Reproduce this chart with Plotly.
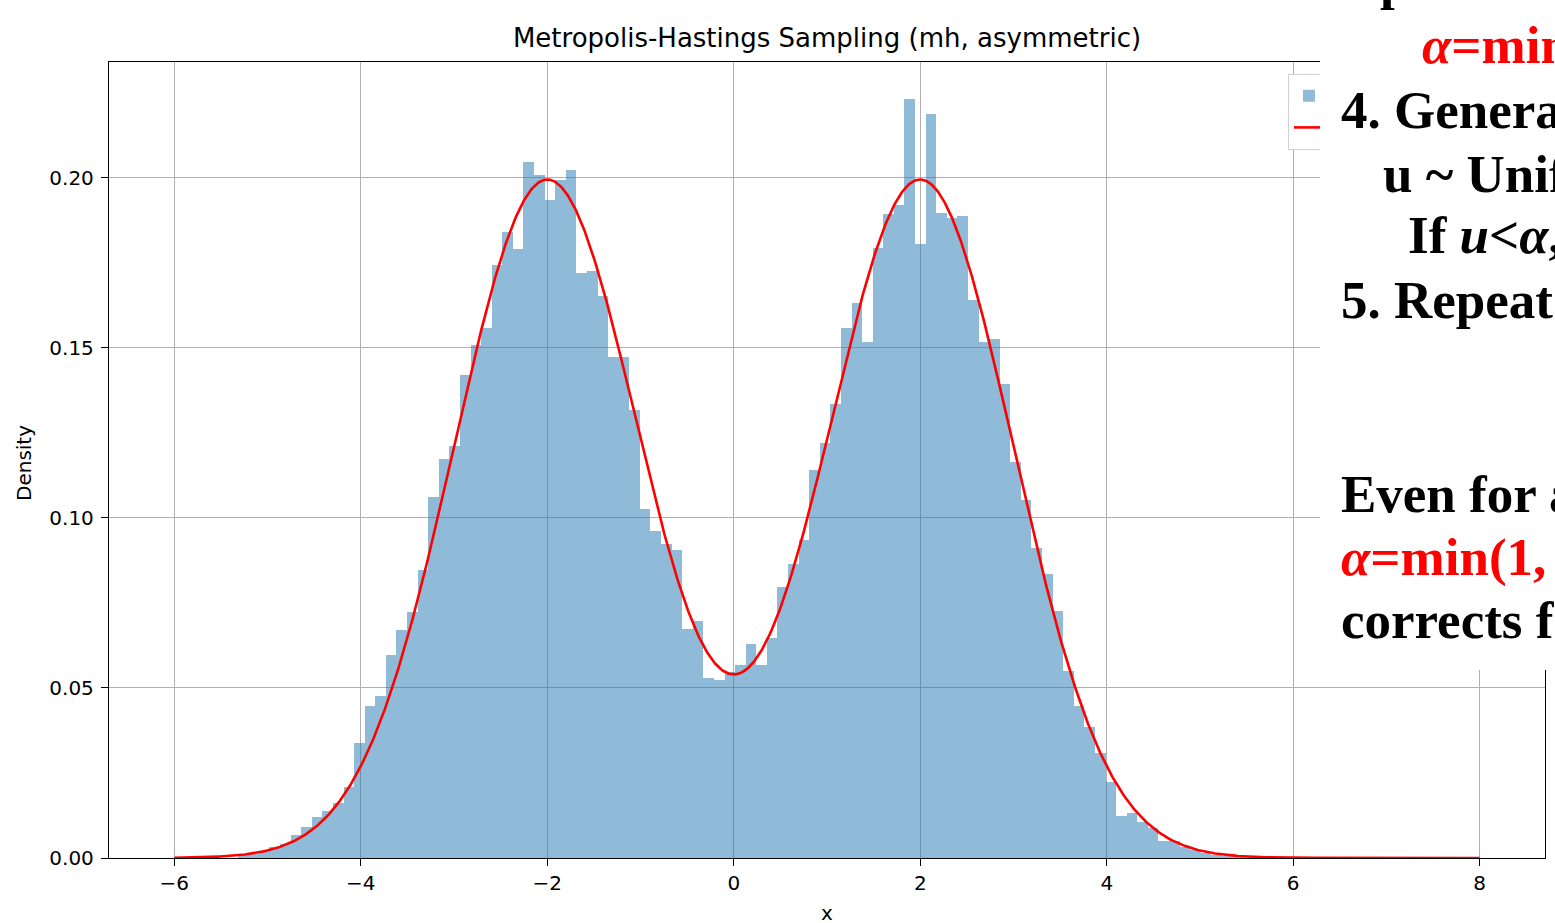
import numpy as np
import plotly.graph_objects as go

# ---------------- data ----------------
bin_start = -5.3195
bin_width = 0.1135
hist_density = [
    0.0008, 0.0012, 0.0020, 0.0032, 0.0042, 0.0067, 0.0090, 0.0121, 0.0139, 0.0162,
    0.0208, 0.0338, 0.0448, 0.0477, 0.0598, 0.0672, 0.0723, 0.0847, 0.1063, 0.1172,
    0.1213, 0.1420, 0.1508, 0.1559, 0.1743, 0.1841, 0.1791, 0.2048, 0.2010, 0.1936,
    0.1994, 0.2024, 0.1720, 0.1725, 0.1653, 0.1473, 0.1474, 0.1318, 0.1026, 0.0962,
    0.0924, 0.0905, 0.0674, 0.0696, 0.0529, 0.0524, 0.0546, 0.0567, 0.0630, 0.0567,
    0.0646, 0.0797, 0.0864, 0.0934, 0.1142, 0.1221, 0.1335, 0.1559, 0.1633, 0.1519,
    0.1795, 0.1895, 0.1920, 0.2233, 0.1807, 0.2188, 0.1898, 0.1881, 0.1888, 0.1640,
    0.1519, 0.1527, 0.1394, 0.1165, 0.1052, 0.0912, 0.0836, 0.0726, 0.0549, 0.0447,
    0.0385, 0.0310, 0.0223, 0.0125, 0.0132, 0.0105, 0.0089, 0.0051, 0.0050, 0.0032,
    0.0024, 0.0016, 0.0010, 0.0006, 0.0004, 0.0003, 0.0002, 0.0001, 0.0001, 0.0001,
]
# target density: equal mixture of N(-2,1) and N(2,1)
mix_means = [-2.0, 2.0]
mix_sds = [1.0, 1.0]
mix_weights = [0.5, 0.5]
curve_x_min, curve_x_max = -6.0, 8.0

x_ticks = [-6, -4, -2, 0, 2, 4, 6, 8]
y_ticks = [0.00, 0.05, 0.10, 0.15, 0.20]

title_text = "Metropolis-Hastings Sampling (mh, asymmetric)"
series_names = ["MH samples", "Target density"]

# ---------------- derived ----------------
centers = bin_start + bin_width * (np.arange(len(hist_density)) + 0.5)
xs = np.linspace(curve_x_min, curve_x_max, 1200)
pdf = np.zeros_like(xs)
for m, s, w in zip(mix_means, mix_sds, mix_weights):
    pdf += w * np.exp(-0.5 * ((xs - m) / s) ** 2) / (s * np.sqrt(2 * np.pi))

# ---------------- layout geometry (px) ----------------
W, H = 1555, 923
L, R, T, B = 109, 1545, 62, 858


def px_x(px):
    return (px - L) / (R - L)


def px_y(py):
    return (B - py) / (B - T)


fig = go.Figure()
fig.add_trace(go.Bar(
    x=centers, y=hist_density, width=bin_width,
    marker=dict(color="rgba(31,119,180,0.5)", line=dict(width=0)),
    name=series_names[0],
))
fig.add_trace(go.Scatter(
    x=xs, y=pdf, mode="lines", line=dict(color="#ff0000", width=2.6),
    name=series_names[1],
))

tick_font = dict(family="DejaVu Sans", size=20, color="black")
axis_common = dict(
    showline=True, linecolor="black", linewidth=1.3, mirror=True,
    ticks="outside", ticklen=7, tickwidth=1.3, tickcolor="black",
    showgrid=True, gridcolor="#b0b0b0", gridwidth=1.3, zeroline=False,
    tickfont=tick_font,
)

fig.update_layout(
    width=W, height=H,
    margin=dict(l=L, r=W - R, t=T, b=H - B, pad=0),
    paper_bgcolor="white", plot_bgcolor="white",
    bargap=0,
    title=dict(text=title_text, x=0.5, xref="paper", y=1 - 38 / H, yref="container",
               xanchor="center", yanchor="middle",
               font=dict(family="DejaVu Sans", size=26, color="black")),
    xaxis=dict(range=[-6.7, 8.7], tickvals=x_ticks, **axis_common),
    yaxis=dict(range=[0, 0.2341], tickvals=y_ticks, tickformat=".2f",
               ticklabelstandoff=3, **axis_common),
    showlegend=True,
    legend=dict(x=px_x(1288), y=px_y(74), xanchor="left", yanchor="top",
                bgcolor="white", bordercolor="#d0d0d0", borderwidth=1,
                font=dict(family="DejaVu Sans", size=22, color="black")),
)

annotations = [
    dict(text="x", x=0.5, y=px_y(913), xref="paper", yref="paper",
         xanchor="center", yanchor="middle", showarrow=False,
         font=dict(family="DejaVu Sans", size=20, color="black")),
    dict(text="Density", x=px_x(24), y=px_y(463), xref="paper", yref="paper",
         xanchor="center", yanchor="middle", textangle=-90, showarrow=False,
         font=dict(family="DejaVu Sans", size=20, color="black")),
    # white slide text box overlaying the chart
    dict(text=" ", x=px_x(1320), y=px_y(0), xref="paper", yref="paper",
         xanchor="left", yanchor="top", showarrow=False, width=280, height=670,
         bgcolor="white", borderpad=0, borderwidth=0),
]

slide_font = "Liberation Serif"
fs = 53
slide_lines = [
    # (text, left px, baseline px, colour)
    ("p", 1379, -1.5, "black"),
    ("<i>α</i>=min(1, ...)", 1421, 63, "#ff0000"),
    ("4. Generate", 1340, 128, "black"),
    ("u ~ Uniform(0,1)", 1382, 192, "black"),
    ("If <i>u</i>&lt;<i>α</i>, accept", 1407, 253, "black"),
    ("5. Repeat", 1340, 318, "black"),
    ("Even for asymmetric", 1340, 512, "black"),
    ("<i>α</i>=min(1, ...)", 1340, 575, "#ff0000"),
    ("corrects for bias", 1340, 638, "black"),
]
for txt, lx, base, col in slide_lines:
    annotations.append(dict(
        text=txt, x=px_x(lx), y=px_y(base - 0.3375 * fs), xref="paper", yref="paper",
        xanchor="left", yanchor="middle", showarrow=False, borderpad=0,
        font=dict(family=slide_font, size=fs, color=col, weight="bold"),
    ))

fig.update_layout(annotations=annotations)
fig.write_html("out.html")
